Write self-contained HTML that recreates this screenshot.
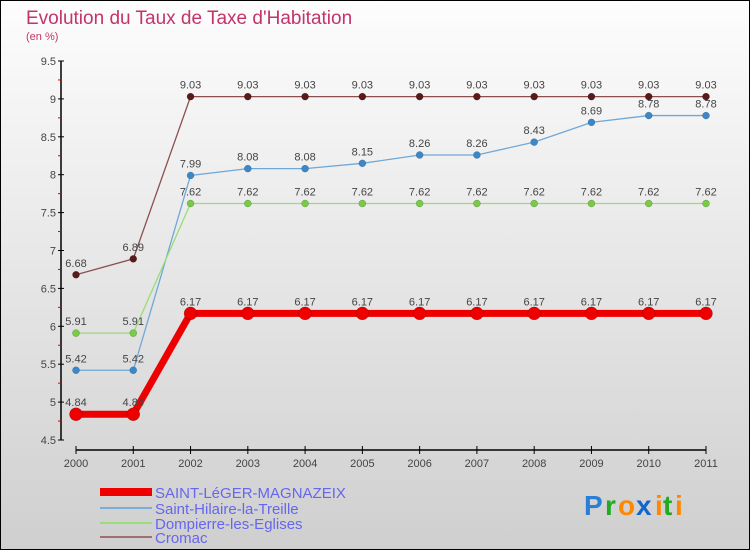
<!DOCTYPE html>
<html><head><meta charset="utf-8"><style>
body{margin:0;width:750px;height:550px;overflow:hidden}
svg{display:block;font-family:"Liberation Sans",sans-serif}
</style></head><body>
<svg id="chart" width="750" height="550" xmlns="http://www.w3.org/2000/svg">
<defs><linearGradient id="bg" x1="0" y1="0" x2="0" y2="1"><stop offset="0" stop-color="#fdfdfd"/><stop offset="1" stop-color="#cfcfcf"/></linearGradient></defs>
<rect x="0.5" y="0.5" width="749" height="549" fill="url(#bg)" stroke="#000"/>
<text x="26" y="24" font-size="19" fill="#c4336a">Evolution du Taux de Taxe d'Habitation</text>
<text x="26" y="40" font-size="11" fill="#c4336a">(en %)</text>
<g id="axes"></g><g id="series"></g>
<g font-size="15" fill="#6666ee">
<line x1="100" y1="492" x2="152" y2="492" stroke="#e00" stroke-width="8"/><text x="155" y="498">SAINT-LéGER-MAGNAZEIX</text>
<line x1="100" y1="508" x2="152" y2="508" stroke="#7aaed6" stroke-width="2"/><text x="155" y="514">Saint-Hilaire-la-Treille</text>
<line x1="100" y1="523" x2="152" y2="523" stroke="#99dd77" stroke-width="2"/><text x="155" y="529">Dompierre-les-Eglises</text>
<line x1="100" y1="537" x2="152" y2="537" stroke="#a07070" stroke-width="2"/><text x="155" y="543">Cromac</text>
</g>
<g font-size="28" font-weight="bold">
<text x="584" y="515" fill="#2a7ed6">P</text><text x="605" y="515" fill="#22aa22">r</text><text x="618" y="515" fill="#ff8800">o</text><text x="636" y="515" fill="#1166cc">x</text><text x="655" y="515" fill="#ff8800">i</text><text x="663" y="515" fill="#22aa22">t</text><text x="675" y="515" fill="#ff8800">i</text>
</g>
</svg>
<script>
const years=[2000,2001,2002,2003,2004,2005,2006,2007,2008,2009,2010,2011];
const yTicks=[4.5,5,5.5,6,6.5,7,7.5,8,8.5,9,9.5];
const saintLeger=[4.84,4.84,6.17,6.17,6.17,6.17,6.17,6.17,6.17,6.17,6.17,6.17];
const saintHilaire=[5.42,5.42,7.99,8.08,8.08,8.15,8.26,8.26,8.43,8.69,8.78,8.78];
const dompierre=[5.91,5.91,7.62,7.62,7.62,7.62,7.62,7.62,7.62,7.62,7.62,7.62];
const cromac=[6.68,6.89,9.03,9.03,9.03,9.03,9.03,9.03,9.03,9.03,9.03,9.03];
const NS="http://www.w3.org/2000/svg";
const x=i=>76+i*(630/(years.length-1));
const y=v=>440-(v-4.5)*75.8;
function mk(t,a,p){const e=document.createElementNS(NS,t);for(const k in a)e.setAttribute(k,a[k]);p.appendChild(e);return e;}
const ax=document.getElementById('axes');
mk('line',{x1:61,y1:61,x2:61,y2:440,stroke:'#000','stroke-width':1.5},ax);
mk('line',{x1:76,y1:450,x2:706,y2:450,stroke:'#000','stroke-width':1.5},ax);
yTicks.forEach((v,i)=>{
 mk('line',{x1:58,y1:y(v),x2:64,y2:y(v),stroke:'#000'},ax);
 if(i<yTicks.length-1)mk('line',{x1:58,y1:y(v+0.25),x2:61,y2:y(v+0.25),stroke:'#d00'},ax);
 const t=mk('text',{x:56,y:y(v)+4,'font-size':11,fill:'#444','text-anchor':'end'},ax);t.textContent=String(v);
 
 
});
years.forEach((yr,i)=>{
 mk('line',{x1:x(i),y1:446,x2:x(i),y2:454,stroke:'#000'},ax);
 const t=mk('text',{x:x(i),y:467,'font-size':11,fill:'#444','text-anchor':'middle'},ax);t.textContent=yr;
 
 
});
const sg=document.getElementById('series');
function draw(vals,line,dot,w,r,name){
 const g=mk('g',{},sg);
 
 
 mk('polyline',{points:vals.map((v,i)=>x(i)+','+y(v)).join(' '),fill:'none',stroke:line,'stroke-width':w},g);
 vals.forEach((v,i)=>{
  const c=mk('circle',{cx:x(i),cy:y(v),r:r,fill:dot,stroke:'rgba(0,0,0,0.3)','stroke-width':0.5},g);
  
  
  const t=mk('text',{x:x(i),y:y(v)-8,'font-size':11,fill:'#444','text-anchor':'middle'},g);t.textContent=String(v);
  
  
 });
}
draw(cromac,'#8b4f4f','#5a1a1a',1.3,3.5,'series-cromac');
draw(saintHilaire,'#6fa8d8','#3a88cc',1.3,3.5,'series-saint-hilaire');
draw(dompierre,'#99dd77','#77cc44',1.3,3.5,'series-dompierre');
draw(saintLeger,'#ee0000','#ee0000',7,6.5,'series-saint-leger');
</script>
</body></html>
